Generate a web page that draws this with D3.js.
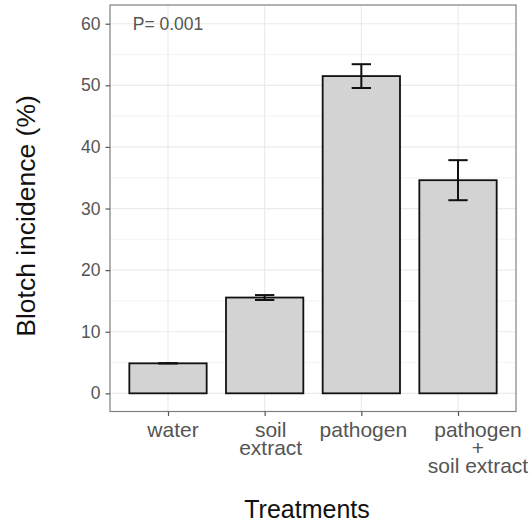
<!DOCTYPE html>
<html>
<head>
<meta charset="utf-8">
<script src="https://cdn.jsdelivr.net/npm/d3@7"></script>
<style>
  body { margin: 0; background: #fff; }
  text { font-family: "Liberation Sans", Arial, sans-serif; }
</style>
</head>
<body>
<svg id="chart"></svg>
<script>
const treatments = ["water", "soil\nextract", "pathogen", "pathogen\n+\nsoil extract"];
const incidence  = [4.87, 15.55, 51.5, 34.6];
const stdErr     = [0, 0.4, 1.93, 3.25];
const yTicks     = [0, 10, 20, 30, 40, 50, 60];
const yMinor     = [5, 15, 25, 35, 45, 55];
const pLabel     = "P= 0.001";

const w = 531, h = 521;
let svg = d3.select('#chart').attr('width', w).attr('height', h);

let panel = {left: 110, right: 516, top: 5, bottom: 411.5};

let xScale = d3.scalePoint()
  .domain(treatments)
  .range([panel.left, panel.right])
  .padding(0.6);

let yScale = d3.scaleLinear()
  .domain([-2.95, 63.04])
  .range([panel.bottom, panel.top]);

let step = xScale.step();
let barW = step * 0.8;
let capW = step * 0.2;

// grid
let grid = svg.append('g');
grid.selectAll('.minor').data(yMinor).enter().append('line')
  .attr('x1', panel.left).attr('x2', panel.right)
  .attr('y1', d => yScale(d)).attr('y2', d => yScale(d))
  .attr('stroke', '#f0f0f0').attr('stroke-width', 0.8);
grid.selectAll('.major').data(yTicks).enter().append('line')
  .attr('x1', panel.left).attr('x2', panel.right)
  .attr('y1', d => yScale(d)).attr('y2', d => yScale(d))
  .attr('stroke', '#ebebeb').attr('stroke-width', 1.2);
grid.selectAll('.vmajor').data(treatments).enter().append('line')
  .attr('x1', d => xScale(d)).attr('x2', d => xScale(d))
  .attr('y1', panel.top).attr('y2', panel.bottom)
  .attr('stroke', '#ebebeb').attr('stroke-width', 1.2);

// bars
let data = treatments.map((t, i) => ({t: t, v: incidence[i], se: stdErr[i]}));

svg.selectAll('.bar').data(data).enter().append('rect')
  .attr('class', 'bar')
  .attr('x', d => xScale(d.t) - barW / 2)
  .attr('width', barW)
  .attr('y', d => yScale(d.v))
  .attr('height', d => yScale(0) - yScale(d.v))
  .attr('fill', '#d3d3d3')
  .attr('stroke', '#111')
  .attr('stroke-width', 1.8);

// error bars
let eb = svg.selectAll('.err').data(data).enter().append('g')
  .attr('stroke', '#111').attr('stroke-width', 2).attr('fill', 'none');
eb.append('line')
  .attr('x1', d => xScale(d.t)).attr('x2', d => xScale(d.t))
  .attr('y1', d => yScale(d.v - d.se)).attr('y2', d => yScale(d.v + d.se));
eb.append('line')
  .attr('x1', d => xScale(d.t) - capW / 2).attr('x2', d => xScale(d.t) + capW / 2)
  .attr('y1', d => yScale(d.v + d.se)).attr('y2', d => yScale(d.v + d.se));
eb.append('line')
  .attr('x1', d => xScale(d.t) - capW / 2).attr('x2', d => xScale(d.t) + capW / 2)
  .attr('y1', d => yScale(d.v - d.se)).attr('y2', d => yScale(d.v - d.se));

// panel border
svg.append('rect')
  .attr('x', panel.left).attr('y', panel.top)
  .attr('width', panel.right - panel.left)
  .attr('height', panel.bottom - panel.top)
  .attr('fill', 'none').attr('stroke', '#808080').attr('stroke-width', 1.2);

// y axis
let yAxis = svg.append('g')
  .attr('transform', `translate(${panel.left}, 0)`)
  .call(d3.axisLeft(yScale).tickValues(yTicks).tickSize(4.5).tickPadding(5));
yAxis.select('.domain').remove();
yAxis.selectAll('line').attr('stroke', '#555').attr('stroke-width', 1.2);
yAxis.selectAll('text')
  .attr('fill', '#555')
  .style('font-size', '17.5px')
  .style('font-family', '"Liberation Sans", Arial, sans-serif');

// x axis
let xAxis = svg.append('g')
  .attr('transform', `translate(0, ${panel.bottom})`)
  .call(d3.axisBottom(xScale).tickSize(4.5).tickFormat(''));
xAxis.select('.domain').remove();
xAxis.selectAll('line').attr('stroke', '#555').attr('stroke-width', 1.2);

// labels: ggplot centred them with some trailing offset
const labelShift = [5, 6, 2, 20];
treatments.forEach(function(t, i) {
  let lines = t.split('\n');
  let txt = svg.append('text')
    .attr('text-anchor', 'middle')
    .attr('fill', '#555')
    .style('font-size', '21px');
  lines.forEach(function(l, j) {
    txt.append('tspan')
      .attr('x', xScale(t) + labelShift[i])
      .attr('y', panel.bottom + 25 + j * 18.3)
      .text(l);
  });
});

// annotation
svg.append('text')
  .attr('x', xScale(treatments[0]))
  .attr('y', yScale(60))
  .attr('dy', '0.35em')
  .attr('text-anchor', 'middle')
  .attr('fill', '#555')
  .style('font-size', '17.5px')
  .text(pLabel);

// axis titles
svg.append('text')
  .attr('x', 307)
  .attr('y', 517.5)
  .attr('text-anchor', 'middle')
  .attr('fill', '#111')
  .style('font-size', '25px')
  .text('Treatments');

svg.append('text')
  .attr('transform', 'translate(35, 216) rotate(-90)')
  .attr('text-anchor', 'middle')
  .attr('fill', '#111')
  .style('font-size', '26.5px')
  .text('Blotch incidence (%)');
</script>
</body>
</html>
